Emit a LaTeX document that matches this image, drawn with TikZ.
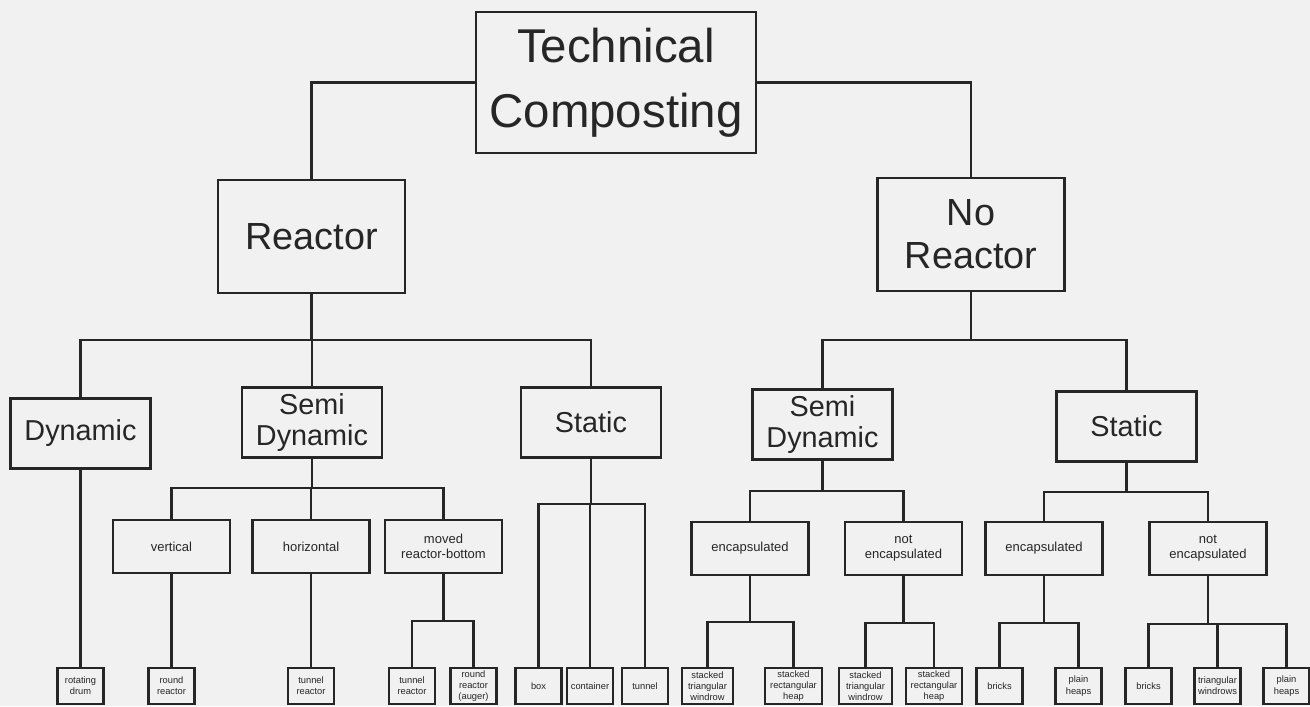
\documentclass[tikz,border=0pt]{standalone}
\usepackage{fontspec}
\setmainfont{Liberation Sans}
\usetikzlibrary{positioning}

\definecolor{inkgray}{HTML}{262626}
\definecolor{paper}{HTML}{F1F1F1}

\begin{document}
\begin{tikzpicture}[
    x=0.02cm, y=-0.02cm,
    box/.style={draw=inkgray, line width=1.3pt, align=center, inner sep=0.5pt, text=inkgray},
    rootbox/.style={box, minimum width=5.6cm, minimum height=2.82cm, font=\fontsize{27}{36.8}\selectfont},
    reactbox/.style={box, minimum width=3.74cm, minimum height=2.26cm, font=\fontsize{21.5}{24.4}\selectfont},
    typebox/.style={box, minimum width=2.8cm, minimum height=1.4cm, font=\fontsize{16.4}{17.2}\selectfont},
    kindbox/.style={box, minimum width=2.34cm, minimum height=1.06cm, font=\fontsize{7.4}{8.5}\selectfont},
    leafbox/.style={box, minimum width=0.92cm, minimum height=0.72cm, font=\fontsize{5.3}{6.4}\selectfont},
    link/.style={draw=inkgray, line width=1.3pt}
]

% Paper
\fill[paper] (0,0) rectangle (1310,706);
\useasboundingbox (0,0) rectangle (1310,706);

% Root
\node[rootbox] (tc) at (616,82.5) {Technical\\Composting};

% Reactor / no reactor
\node[reactbox] (reac) at (311.5,236.5) {Reactor};
\node[reactbox] (noreac) at (971,234.5) {No\\Reactor};

% Operating types
\node[typebox] (dyn) at (80.5,433.5) {Dynamic};
\node[typebox] (semiL) at (312,422.5) {Semi\\Dynamic};
\node[typebox] (statL) at (591,422.5) {Static};
\node[typebox] (semiR) at (822.5,424.5) {Semi\\Dynamic};
\node[typebox] (statR) at (1126.5,426.5) {Static};

% Sub types
\node[kindbox] (vert) at (171.5,546.5) {vertical};
\node[kindbox] (horiz) at (311,546.5) {horizontal};
\node[kindbox] (moved) at (443.5,546.5) {moved\\reactor-bottom};
\node[kindbox] (encL) at (750,548.5) {encapsulated};
\node[kindbox] (notencL) at (903.5,548.5) {not\\encapsulated};
\node[kindbox] (encR) at (1044,548.5) {encapsulated};
\node[kindbox] (notencR) at (1208,548.5) {not\\encapsulated};

% Systems
\node[leafbox] (drum) at (80.5,686) {rotating\\drum};
\node[leafbox] (roundr) at (171.5,686) {round\\reactor};
\node[leafbox] (tunr1) at (311,686) {tunnel\\reactor};
\node[leafbox] (tunr2) at (412,686) {tunnel\\reactor};
\node[leafbox] (auger) at (473.5,686) {round\\reactor\\(auger)};
\node[leafbox] (boxn) at (538.5,686) {box};
\node[leafbox] (cont) at (590,686) {container};
\node[leafbox] (tunnel) at (645,686) {tunnel};
\node[leafbox, minimum width=1.02cm] (stw1) at (707.5,686) {stacked\\triangular\\windrow};
\node[leafbox, minimum width=1.14cm] (srh1) at (793.5,686) {stacked\\rectangular\\heap};
\node[leafbox, minimum width=1.06cm] (stw2) at (865.5,686) {stacked\\triangular\\windrow};
\node[leafbox, minimum width=1.12cm] (srh2) at (934,686) {stacked\\rectangular\\heap};
\node[leafbox] (brk1) at (999.5,686) {bricks};
\node[leafbox] (plh1) at (1078.5,686) {plain\\heaps};
\node[leafbox] (brk2) at (1148.5,686) {bricks};
\node[leafbox] (trw) at (1217.5,686) {triangular\\windrows};
\node[leafbox] (plh2) at (1286.5,686) {plain\\heaps};

% Fork points
\coordinate (fReac) at (311.5,340);
\coordinate (fNoReac) at (971,340);
\coordinate (fSemiL) at (312,488);
\coordinate (fStatL) at (591,504);
\coordinate (fSemiR) at (822.5,491);
\coordinate (fStatR) at (1126.5,492);
\coordinate (fMoved) at (443.5,621);
\coordinate (fEncL) at (750,622);
\coordinate (fNotencL) at (903.5,623);
\coordinate (fEncR) at (1044,623);
\coordinate (fNotencR) at (1208,624);

% Connectors
\draw[link] (tc.west) -| (reac.north);
\draw[link] (tc.east) -| (noreac.north);

\draw[link] (reac.south) -- (fReac);
\foreach \c in {dyn,semiL,statL} \draw[link] (fReac) -| (\c.north);
\draw[link] (noreac.south) -- (fNoReac);
\foreach \c in {semiR,statR} \draw[link] (fNoReac) -| (\c.north);

\draw[link] (dyn.south) -- (drum.north);
\draw[link] (semiL.south) -- (fSemiL);
\foreach \c in {vert,horiz,moved} \draw[link] (fSemiL) -| (\c.north);
\draw[link] (statL.south) -- (fStatL);
\foreach \c in {boxn,cont,tunnel} \draw[link] (fStatL) -| (\c.north);
\draw[link] (semiR.south) -- (fSemiR);
\foreach \c in {encL,notencL} \draw[link] (fSemiR) -| (\c.north);
\draw[link] (statR.south) -- (fStatR);
\foreach \c in {encR,notencR} \draw[link] (fStatR) -| (\c.north);

\draw[link] (vert.south) -- (roundr.north);
\draw[link] (horiz.south) -- (tunr1.north);
\draw[link] (moved.south) -- (fMoved);
\foreach \c in {tunr2,auger} \draw[link] (fMoved) -| (\c.north);
\draw[link] (encL.south) -- (fEncL);
\foreach \c in {stw1,srh1} \draw[link] (fEncL) -| (\c.north);
\draw[link] (notencL.south) -- (fNotencL);
\foreach \c in {stw2,srh2} \draw[link] (fNotencL) -| (\c.north);
\draw[link] (encR.south) -- (fEncR);
\foreach \c in {brk1,plh1} \draw[link] (fEncR) -| (\c.north);
\draw[link] (notencR.south) -- (fNotencR);
\foreach \c in {brk2,trw,plh2} \draw[link] (fNotencR) -| (\c.north);

\end{tikzpicture}
\end{document}
